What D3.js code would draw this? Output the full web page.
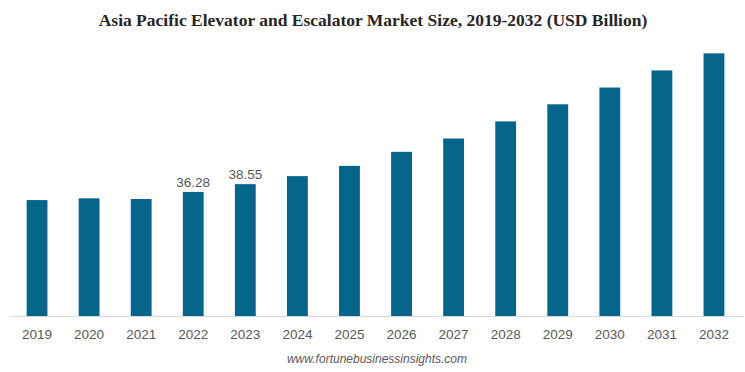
<!DOCTYPE html>
<html><head><meta charset="utf-8">
<script src="https://cdn.jsdelivr.net/npm/d3@7"></script>
<style>body{margin:0;background:#fff}svg{display:block}</style>
</head><body>
<script>
const years = ["2019","2020","2021","2022","2023","2024","2025","2026","2027","2028","2029","2030","2031","2032"];
const values = [33.9,34.4,34.2,36.28,38.55,40.9,43.9,48.0,51.9,56.9,61.9,66.8,71.8,76.8];
const labels = {"2022":"36.28","2023":"38.55"};

const W=745,H=372;
const svg=d3.select("body").append("svg").attr("width",W).attr("height",H);
const x=d3.scaleBand().domain(years).range([11,740]).paddingInner(0.6).paddingOuter(0.3);
const y=d3.scaleLinear().domain([0,100]).range([316,-26]);

svg.append("text").attr("x",373).attr("y",26).attr("text-anchor","middle")
  .attr("font-family","Liberation Serif, Times New Roman, serif").attr("font-weight","bold")
  .attr("font-size",17.5).attr("fill","#262626").text("Asia Pacific Elevator and Escalator Market Size, 2019-2032 (USD Billion)");

svg.selectAll("rect.bar").data(years).enter().append("rect").attr("class","bar")
  .attr("x",d=>x(d)).attr("width",x.bandwidth())
  .attr("y",(d,i)=>y(values[i])).attr("height",(d,i)=>y(0)-y(values[i]))
  .attr("fill","#05658b");

const ax=svg.append("g").attr("transform","translate(0,316)").call(d3.axisBottom(x).tickSize(0).tickPadding(13));
ax.select(".domain").remove();
ax.selectAll("text").attr("font-family","Liberation Sans, Arial, sans-serif").attr("font-size",13.5).attr("fill","#595959");
svg.append("line").attr("x1",10).attr("x2",744).attr("y1",316.5).attr("y2",316.5).attr("stroke","#d9d9d9");

svg.selectAll("text.lab").data(years.filter(d=>labels[d])).enter().append("text").attr("class","lab")
  .attr("x",d=>x(d)+x.bandwidth()/2).attr("y",d=>y(values[years.indexOf(d)])-5)
  .attr("text-anchor","middle").attr("font-family","Liberation Sans, Arial, sans-serif")
  .attr("font-size",13.5).attr("fill","#595959").text(d=>labels[d]);

svg.append("text").attr("x",377).attr("y",363).attr("text-anchor","middle")
  .attr("font-family","Liberation Sans, Arial, sans-serif").attr("font-style","italic")
  .attr("font-size",12).attr("fill","#595959").text("www.fortunebusinessinsights.com");
</script>
</body></html>
